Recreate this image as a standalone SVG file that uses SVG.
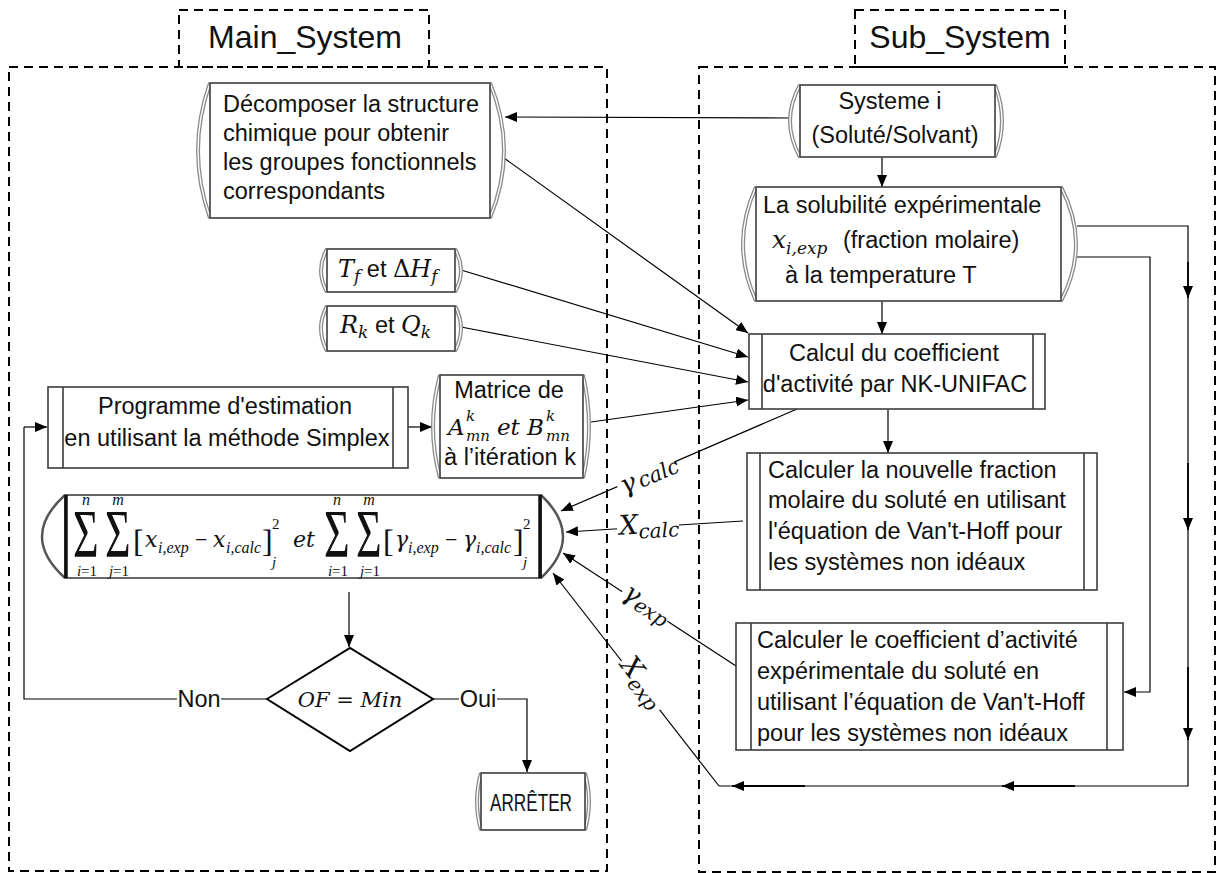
<svg xmlns="http://www.w3.org/2000/svg" width="1218" height="873" viewBox="0 0 1218 873">
<defs>
<marker id="ah" markerWidth="12" markerHeight="10" refX="12" refY="5" orient="auto" markerUnits="userSpaceOnUse"><path d="M0,0 L12,5 L0,10 z" fill="#000"/></marker>
</defs>
<style>
.dash{fill:none;stroke:#000;stroke-width:2;stroke-dasharray:9 6}
.rb{fill:#fff;stroke:#3c3c3c;stroke-width:1.6}
.arc{fill:none;stroke:#8a8a8a;stroke-width:4}
.arci{fill:none;stroke:#fff;stroke-width:1.4}
.pl{fill:none;stroke:#3c3c3c;stroke-width:1.6}
.ln{fill:none;stroke:#000;stroke-width:1.2}
.la{fill:none;stroke:#000;stroke-width:1.2;marker-end:url(#ah)}
.lb{fill:none;stroke:#000;stroke-width:1.8;marker-end:url(#ah)}
.t{font-family:"Liberation Sans",Arial,sans-serif;font-size:23.5px;fill:#111}
.h{font-family:"Liberation Sans",Arial,sans-serif;font-size:32px;fill:#111}
.m{font-family:"DejaVu Serif","Liberation Serif",serif;font-style:italic;fill:#111}
.ms{font-family:"Liberation Serif",serif;font-style:italic;fill:#111}
.u{font-family:"Liberation Serif",serif;fill:#111}
.sg{font-family:"Liberation Serif",serif;font-size:44px;fill:#111}
</style>
<rect width="1218" height="873" fill="#fff"/>

<g id="main_system">
<rect class="dash" x="9" y="67" width="598" height="804"/>
<rect class="dash" x="179" y="10" width="250" height="57"/>
<text class="h" x="305" y="48" text-anchor="middle">Main_System</text>
</g>
<g id="sub_system">
<rect class="dash" x="699" y="67" width="516" height="805"/>
<rect class="dash" x="855" y="10" width="210" height="57"/>
<text class="h" x="960" y="48" text-anchor="middle">Sub_System</text>
</g>

<g id="connectors">
<line class="la" x1="790" y1="118" x2="505" y2="117"/>
<line class="la" x1="882" y1="157" x2="882" y2="187"/>
<line class="la" x1="882" y1="301" x2="882" y2="334"/>
<line class="la" x1="504" y1="158" x2="748" y2="333"/>
<line class="la" x1="461" y1="270" x2="748" y2="357"/>
<line class="la" x1="461" y1="327" x2="748" y2="382"/>
<line class="la" x1="591" y1="422" x2="748" y2="400"/>
<line class="la" x1="888" y1="410" x2="888" y2="453"/>
<line class="la" x1="408" y1="427" x2="432" y2="427"/>
<path class="ln" d="M267,699 H221 M177,699 H24 V427"/>
<line class="la" x1="24" y1="427" x2="47" y2="427"/>
<path class="la" d="M433,699 H459 M497,699 H527 V772"/>
<line class="la" x1="349" y1="592" x2="349" y2="647"/>
<line class="la" x1="797" y1="409" x2="561" y2="511"/>
<line class="la" x1="743" y1="521" x2="566" y2="532"/>
<line class="la" x1="736" y1="666" x2="563" y2="553"/>
<line class="la" x1="719" y1="786" x2="553" y2="573"/>
<path class="ln" d="M1077,226 H1188 V786 H719"/>
<line class="lb" x1="1188" y1="262" x2="1188" y2="298"/>
<line class="lb" x1="1188" y1="463" x2="1188" y2="530"/>
<line class="lb" x1="1188" y1="667" x2="1188" y2="740"/>
<line class="lb" x1="1075" y1="786" x2="1002" y2="786"/>
<line class="lb" x1="805" y1="786" x2="732" y2="786"/>
<path class="la" d="M1077,257 H1150 V692 H1124"/>
<g transform="translate(647,477) rotate(-23)">
<rect x="-31" y="-17" width="62" height="32" fill="#fff"/>
<text class="m" x="-28" y="7" font-size="26">γ<tspan font-size="21" dx="3" dy="1">calc</tspan></text>
</g>
<g transform="translate(648,527) rotate(-3.5)">
<rect x="-31" y="-17" width="62" height="32" fill="#fff"/>
<text class="m" x="-29" y="6" font-size="27">X<tspan font-size="20" dy="5">calc</tspan></text>
</g>
<g transform="translate(645,606) rotate(33)">
<rect x="-27" y="-17" width="54" height="32" fill="#fff"/>
<text class="m" x="-25" y="5" font-size="26">γ<tspan font-size="20" dy="4">exp</tspan></text>
</g>
<g transform="translate(641,685) rotate(52)">
<rect x="-31" y="-18" width="62" height="34" fill="#fff"/>
<text class="m" x="-29" y="5" font-size="27">X<tspan font-size="20" dy="6">exp</tspan></text>
</g>
</g>

<g id="n_decomposer">
<path class="arc" d="M210,83 Q186,150.5 210,218 M490,83 Q518,150.5 490,218"/>
<path class="arci" d="M210,83 Q186,150.5 210,218 M490,83 Q518,150.5 490,218"/>
<rect class="rb" x="210" y="83" width="280" height="135"/>
<text class="t" font-size="23" x="223" y="112">Décomposer la structure</text>
<text class="t" font-size="23" x="223" y="141">chimique pour obtenir</text>
<text class="t" font-size="23" x="223" y="170">les groupes fonctionnels</text>
<text class="t" font-size="23" x="223" y="199">correspondants</text>
</g>

<g id="n_systeme">
<path class="arc" d="M800,85 Q780,121 800,157 M995,85 Q1009,121 995,157"/>
<path class="arci" d="M800,85 Q780,121 800,157 M995,85 Q1009,121 995,157"/>
<rect class="rb" x="800" y="85" width="195" height="72"/>
<text class="t" font-size="24" x="890" y="109" text-anchor="middle">Systeme i</text>
<text class="t" font-size="24" x="895" y="143" text-anchor="middle">(Soluté/Solvant)</text>
</g>

<g id="n_solubilite">
<path class="arc" d="M756,187 Q730,244 756,301 M1061,187 Q1091,244 1061,301"/>
<path class="arci" d="M756,187 Q730,244 756,301 M1061,187 Q1091,244 1061,301"/>
<rect class="rb" x="756" y="187" width="305" height="114"/>
<text class="t" font-size="24" x="763" y="213">La solubilité expérimentale</text>
<text class="m" font-size="25" x="772" y="248">x<tspan font-size="17" dy="6">i,exp</tspan></text>
<text class="t" font-size="24" x="843" y="248">(fraction molaire)</text>
<text class="t" font-size="24" x="785" y="283">à la temperature T</text>
</g>

<g id="n_tf">
<path class="arc" d="M327,249 Q315,270.5 327,292 M455,249 Q467,270.5 455,292"/>
<path class="arci" d="M327,249 Q315,270.5 327,292 M455,249 Q467,270.5 455,292"/>
<rect class="rb" x="327" y="249" width="128" height="43" stroke="#777"/>
<text class="m" font-size="24" x="338" y="277">T<tspan font-size="17" dy="5">f</tspan><tspan class="t" font-style="normal" font-size="23" dy="-5"> et </tspan><tspan font-style="normal">Δ</tspan>H<tspan font-size="17" dy="5">f</tspan></text>
</g>

<g id="n_rk">
<path class="arc" d="M327,306 Q315,328.5 327,351 M455,306 Q467,328.5 455,351"/>
<path class="arci" d="M327,306 Q315,328.5 327,351 M455,306 Q467,328.5 455,351"/>
<rect class="rb" x="327" y="306" width="128" height="45" stroke="#777"/>
<text class="m" font-size="24" x="340" y="333">R<tspan font-size="17" dy="5">k</tspan><tspan class="t" font-style="normal" font-size="23" dy="-5"> et </tspan>Q<tspan font-size="17" dy="5">k</tspan></text>
</g>

<g id="n_calcul">
<rect class="rb" x="749" y="334" width="296" height="75"/>
<path class="pl" d="M762,334 V409 M1033,334 V409"/>
<text class="t" font-size="23" x="894" y="361" text-anchor="middle">Calcul du coefficient</text>
<text class="t" font-size="23" x="895" y="392" text-anchor="middle">d'activité par NK-UNIFAC</text>
</g>

<g id="n_nouvelle">
<rect class="rb" x="747" y="453" width="350" height="137"/>
<path class="pl" d="M760,453 V590 M1084,453 V590"/>
<text class="t" font-size="24" x="768" y="478">Calculer la nouvelle fraction</text>
<text class="t" font-size="24" x="768" y="508">molaire du soluté en utilisant</text>
<text class="t" font-size="24" x="768" y="539">l'équation de Van't-Hoff pour</text>
<text class="t" font-size="24" x="768" y="570">les systèmes non idéaux</text>
</g>

<g id="n_coeff_exp">
<rect class="rb" x="736" y="623" width="387" height="127"/>
<path class="pl" d="M751,623 V750 M1107,623 V750"/>
<text class="t" font-size="24" x="757" y="648">Calculer le coefficient d’activité</text>
<text class="t" font-size="24" x="757" y="679">expérimentale du soluté en</text>
<text class="t" font-size="24" x="757" y="710">utilisant l’équation de Van't-Hoff</text>
<text class="t" font-size="24" x="757" y="741">pour les systèmes non idéaux</text>
</g>

<g id="n_programme">
<rect class="rb" x="48" y="387" width="360" height="81"/>
<path class="pl" d="M63,387 V468 M393,387 V468"/>
<text class="t" x="225" y="414" text-anchor="middle">Programme d'estimation</text>
<text class="t" x="227" y="446" text-anchor="middle">en utilisant la méthode Simplex</text>
</g>

<g id="n_matrice">
<path class="arc" d="M440,375 Q426,426.5 440,478 M583,375 Q595,426.5 583,478"/>
<path class="arci" d="M440,375 Q426,426.5 440,478 M583,375 Q595,426.5 583,478"/>
<rect class="rb" x="440" y="375" width="143" height="103" stroke="#666"/>
<text class="t" font-size="22.5" x="509" y="398" text-anchor="middle">Matrice de</text>
<text class="m" font-size="23" x="448" y="435">A</text>
<text class="m" font-size="15" x="466" y="421">k</text>
<text class="m" font-size="15" x="466" y="441">mn</text>
<text class="m" font-size="23" x="497" y="435">et</text>
<text class="m" font-size="23" x="527" y="435">B</text>
<text class="m" font-size="15" x="546" y="421">k</text>
<text class="m" font-size="15" x="546" y="441">mn</text>
<text class="t" font-size="22.5" x="510" y="465" text-anchor="middle">à l’itération k</text>
</g>

<g id="n_somme">
<path d="M65,495 Q19,536.5 65,578 M541,495 Q585,536.5 541,578" fill="none" stroke="#555" stroke-width="2.5"/>
<rect x="65" y="495" width="476" height="83" fill="#fff" stroke="#333" stroke-width="1.5"/>
<path d="M66,495 V578 M540,495 V578" stroke="#111" stroke-width="3.5"/>
<text class="sg" transform="translate(73,556) scale(1,1.55)">Σ</text>
<text class="sg" transform="translate(105,556) scale(1,1.55)">Σ</text>
<text class="ms" font-size="16" x="86" y="505" text-anchor="middle">n</text>
<text class="ms" font-size="16" x="118" y="505" text-anchor="middle">m</text>
<text class="ms" font-size="15" x="87" y="576" text-anchor="middle">i<tspan font-style="normal">=1</tspan></text>
<text class="ms" font-size="15" x="119" y="576" text-anchor="middle">j<tspan font-style="normal">=1</tspan></text>
<text class="u" font-size="32" x="133" y="552">[</text>
<text class="m" font-size="22" x="145" y="547">x</text>
<text class="ms" font-size="16" x="158" y="553">i,exp</text>
<text class="u" font-size="22" x="195" y="547">−</text>
<text class="m" font-size="22" x="213" y="547">x</text>
<text class="ms" font-size="16" x="226" y="553">i,calc</text>
<text class="u" font-size="32" x="262" y="552">]</text>
<text class="u" font-size="15" x="272" y="529">2</text>
<text class="ms" font-size="15" x="272" y="567">j</text>
<text class="m" font-size="22" x="293" y="547">et</text>
<text class="sg" transform="translate(324,556) scale(1,1.55)">Σ</text>
<text class="sg" transform="translate(356,556) scale(1,1.55)">Σ</text>
<text class="ms" font-size="16" x="337" y="505" text-anchor="middle">n</text>
<text class="ms" font-size="16" x="369" y="505" text-anchor="middle">m</text>
<text class="ms" font-size="15" x="338" y="576" text-anchor="middle">i<tspan font-style="normal">=1</tspan></text>
<text class="ms" font-size="15" x="370" y="576" text-anchor="middle">j<tspan font-style="normal">=1</tspan></text>
<text class="u" font-size="32" x="383" y="552">[</text>
<text class="m" font-size="22" x="395" y="547">γ</text>
<text class="ms" font-size="16" x="408" y="553">i,exp</text>
<text class="u" font-size="22" x="445" y="547">−</text>
<text class="m" font-size="22" x="463" y="547">γ</text>
<text class="ms" font-size="16" x="476" y="553">i,calc</text>
<text class="u" font-size="32" x="513" y="552">]</text>
<text class="u" font-size="15" x="523" y="529">2</text>
<text class="ms" font-size="15" x="523" y="567">j</text>
</g>

<g id="n_decision">
<path d="M267,699 L350,648 L433,699 L350,751 Z" fill="#fff" stroke="#000" stroke-width="2"/>
<text class="m" font-size="21" x="350" y="707" text-anchor="middle">OF = Min</text>
</g>
<g id="lbl_non"><text class="t" font-size="22" x="199" y="707" text-anchor="middle">Non</text></g>
<g id="lbl_oui"><text class="t" font-size="22" x="478" y="707" text-anchor="middle">Oui</text></g>

<g id="n_arreter">
<path class="arc" d="M481,773 Q473,801.5 481,830 M585,773 Q593,801.5 585,830"/>
<path class="arci" d="M481,773 Q473,801.5 481,830 M585,773 Q593,801.5 585,830"/>
<rect class="rb" x="481" y="773" width="104" height="57" stroke="#777"/>
<text class="t" font-size="19" x="490" y="811" textLength="82" lengthAdjust="spacingAndGlyphs">ARRÊTER</text>
</g>
</svg>
